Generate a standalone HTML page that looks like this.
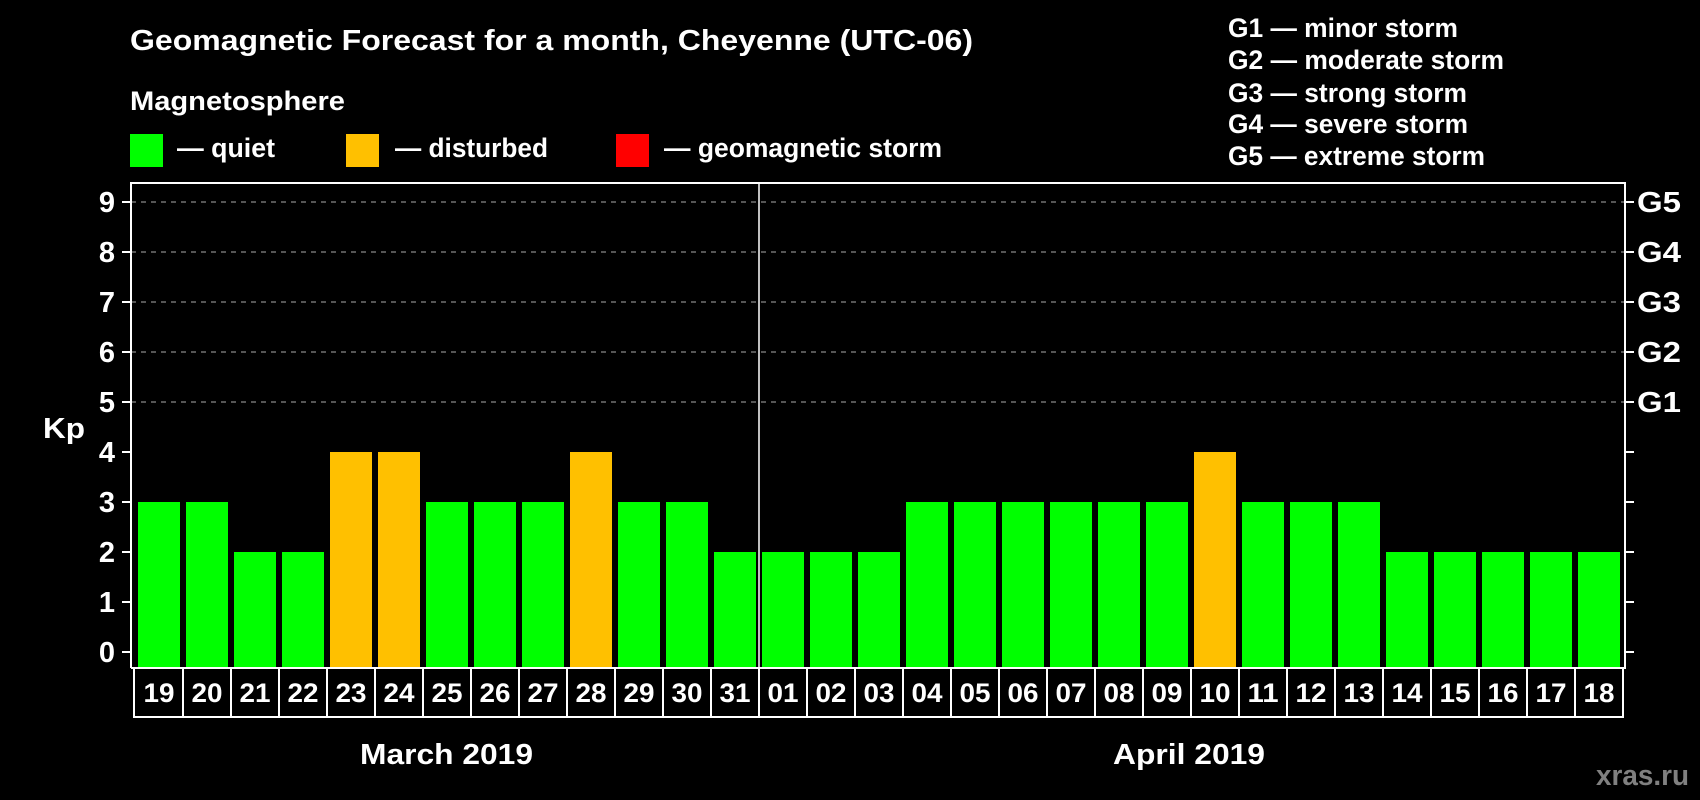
<!DOCTYPE html>
<html><head><meta charset="utf-8"><style>
html,body{margin:0;padding:0;background:#000;}
svg{display:block;font-family:"Liberation Sans",Arial,sans-serif;font-weight:bold;}
</style></head><body>
<svg id="chart" width="1700" height="800" viewBox="0 0 1700 800">
<text x="130" y="50" fill="#fff" font-size="29" textLength="843" lengthAdjust="spacingAndGlyphs">Geomagnetic Forecast for a month, Cheyenne (UTC-06)</text>
<text x="130" y="110" fill="#fff" font-size="27" textLength="215" lengthAdjust="spacingAndGlyphs">Magnetosphere</text>
<rect x="130" y="134" width="33" height="33" fill="#00ff00"/>
<text x="177" y="157" fill="#fff" font-size="27" textLength="98" lengthAdjust="spacingAndGlyphs">— quiet</text>
<rect x="346" y="134" width="33" height="33" fill="#ffc000"/>
<text x="395" y="157" fill="#fff" font-size="27" textLength="153" lengthAdjust="spacingAndGlyphs">— disturbed</text>
<rect x="616" y="134" width="33" height="33" fill="#ff0000"/>
<text x="664" y="157" fill="#fff" font-size="27" textLength="278" lengthAdjust="spacingAndGlyphs">— geomagnetic storm</text>
<g font-size="27" fill="#fff">
<text x="1228" y="37" textLength="230" lengthAdjust="spacingAndGlyphs">G1 — minor storm</text>
<text x="1228" y="69" textLength="276" lengthAdjust="spacingAndGlyphs">G2 — moderate storm</text>
<text x="1228" y="102" textLength="239" lengthAdjust="spacingAndGlyphs">G3 — strong storm</text>
<text x="1228" y="133" textLength="240" lengthAdjust="spacingAndGlyphs">G4 — severe storm</text>
<text x="1228" y="165" textLength="257" lengthAdjust="spacingAndGlyphs">G5 — extreme storm</text>
</g>
<text x="43" y="438" fill="#fff" font-size="29" textLength="42" lengthAdjust="spacingAndGlyphs">Kp</text>
<g id="plot"></g>
<text x="360" y="764" fill="#fff" font-size="29" textLength="173" lengthAdjust="spacingAndGlyphs">March 2019</text>
<text x="1113" y="764" fill="#fff" font-size="29" textLength="152" lengthAdjust="spacingAndGlyphs">April 2019</text>
<text x="1596" y="785" fill="#808080" font-size="29" textLength="93" lengthAdjust="spacingAndGlyphs">xras.ru</text>
</svg>
<script>
const days = ["19","20","21","22","23","24","25","26","27","28","29","30","31","01","02","03","04","05","06","07","08","09","10","11","12","13","14","15","16","17","18"];
const kpValues = [3,3,2,2,4,4,3,3,3,4,3,3,2,2,2,2,3,3,3,3,3,3,4,3,3,3,2,2,2,2,2];
const yTicks = [0,1,2,3,4,5,6,7,8,9];
const gLabels = ["G1","G2","G3","G4","G5"];
const gLevels = [5,6,7,8,9];
const monthSplitIndex = 13;

const NS="http://www.w3.org/2000/svg";
const g=document.getElementById('plot');
const L=131,R=1625,T=183,B=668,x0=138,pitch=48,bw=pitch-6;
const y=v=>652-v*50;
const x=i=>x0+i*pitch;
function mk(t,a){const e=document.createElementNS(NS,t);for(const k in a)e.setAttribute(k,a[k]);g.appendChild(e);return e;}
yTicks.forEach(v=>{
  if(v>=5){const l=mk('line',{x1:L,x2:R,y1:y(v),y2:y(v),stroke:'#888','stroke-width':1.3,'stroke-dasharray':'5,5'});
  
  }
  const t1=mk('line',{x1:122,x2:L,y1:y(v),y2:y(v),stroke:'#fff','stroke-width':2});
  
  
  const t2=mk('line',{x1:R,x2:R+9,y1:y(v),y2:y(v),stroke:'#fff','stroke-width':2});
  
  
  const tx=mk('text',{x:115,y:y(v)+10,fill:'#fff','font-size':29,'text-anchor':'end'});tx.textContent=v;
  
  
});
gLabels.forEach((s,i)=>{
  const t=mk('text',{x:1637,y:y(gLevels[i])+10,fill:'#fff','font-size':29,textLength:44,lengthAdjust:'spacingAndGlyphs'});t.textContent=s;
  
  
});
kpValues.forEach((v,i)=>{
  const c=v>=5?'#ff0000':(v>=4?'#ffc000':'#00ff00');
  const r=mk('rect',{x:x(i),y:y(v),width:bw,height:B-y(v),fill:c});
  
  
});
const fr=mk('path',{d:`M${L},${B} V${T} H${R} V${B} H${L}`,fill:'none',stroke:'#fff','stroke-width':2});


const xs=x(monthSplitIndex)-3;
const dv=mk('line',{x1:xs,x2:xs,y1:T,y2:B,stroke:'#fff','stroke-width':1.5});


const bl=134,br=1623;
const bx=mk('rect',{x:bl,y:B,width:br-bl,height:717-B,fill:'none',stroke:'#fff','stroke-width':2});


days.forEach((d,i)=>{
  if(i>0){const s=mk('line',{x1:x(i)-3,x2:x(i)-3,y1:B,y2:717,stroke:'#fff','stroke-width':2});
  
  }
  const t=mk('text',{x:x(i)+bw/2,y:702,fill:'#fff','font-size':27,'text-anchor':'middle',textLength:31,lengthAdjust:'spacingAndGlyphs'});t.textContent=d;
  
  
});
</script>
</body></html>
